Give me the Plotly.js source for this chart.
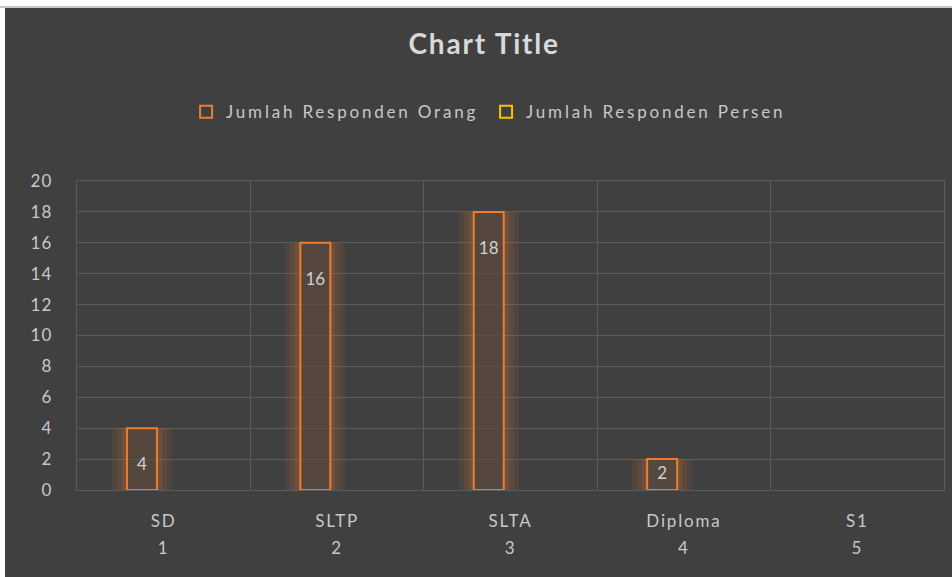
<!DOCTYPE html>
<html>
<head>
<meta charset="utf-8">
<script src="https://cdn.plot.ly/plotly-3.0.1.min.js"></script>
<style>
  html, body { margin: 0; padding: 0; background: #ffffff; }
  #chart { position: absolute; left: 5px; top: 8px; width: 947px; height: 569px; }
  #edge { position: absolute; left: 0; top: 6px; width: 952px; height: 2px; background: #c8c8c8; }
  #chart .xtick text, #chart .x2tick text { letter-spacing: 1.8px; }
  #chart .ytick text { letter-spacing: 1.2px; }
  #chart .gtitle { letter-spacing: 1.8px; }
  #chart .legendtext { letter-spacing: 2.8px; }
</style>
</head>
<body>
<div id="edge"></div>
<div id="chart"></div>
<script>
// ---- data ----
const categories = ["SD", "SLTP", "SLTA", "Diploma", "S1"];
const codes = ["1", "2", "3", "4", "5"];
const jumlahOrang = [4, 16, 18, 2, null];
const jumlahPersen = [null, null, null, null, null];
const seriesNames = ["Jumlah Responden Orang", "Jumlah Responden Persen"];
const yTicks = [0, 2, 4, 6, 8, 10, 12, 14, 16, 18, 20];

const ORANGE = "#ED7D31";
const GOLD = "#FFC000";
const GRID = "#5b5b5b";
const TXT = "#c8c8c8";
const FONT = "Lato, 'Open Sans', sans-serif";

function glowLayer(w, off, a) {
  return {
    type: "bar", x: categories, y: jumlahOrang,
    width: w, offset: off,
    marker: { color: "rgba(237,125,49," + a + ")", line: { width: 0 } },
    showlegend: false, hoverinfo: "skip"
  };
}
const glowA = glowLayer(0.346, -0.2985, 0.08);
const glowB = glowLayer(0.288, -0.2695, 0.10);
const glowC = glowLayer(0.231, -0.241, 0.13);

const orang = {
  type: "bar", name: seriesNames[0], x: categories, y: jumlahOrang,
  width: 0.173, offset: -0.212,
  marker: { color: "rgba(64,64,64,0.55)", line: { color: ORANGE, width: 2 } },
  text: jumlahOrang.map(v => v == null ? "" : String(v)),
  texttemplate: jumlahOrang.map(v => (v != null && v >= 4) ? "\u00a0<br>%{text}" : "%{text}"),
  textposition: "inside", insidetextanchor: "end", constraintext: "none",
  textfont: { color: "#d0d0d0", size: 17, family: FONT },
  cliponaxis: false
};
const persen = {
  type: "bar", name: seriesNames[1], x: categories, y: jumlahPersen,
  width: 0.173, offset: 0.04,
  marker: { color: "rgba(0,0,0,0)", line: { color: GOLD, width: 2 } }
};
const codeTrace = {
  type: "scatter", mode: "markers", x: codes, y: jumlahPersen,
  xaxis: "x2", showlegend: false, hoverinfo: "skip"
};

const layout = {
  width: 947, height: 569,
  paper_bgcolor: "#404040", plot_bgcolor: "#404040",
  margin: { l: 72, r: 8, t: 173, b: 87 },
  font: { family: FONT, color: TXT, size: 15 },
  title: {
    text: "<b>Chart Title</b>",
    font: { size: 28, color: "#d9d9d9", family: FONT },
    x: 0.506, xanchor: "center", xref: "container",
    y: 0.937, yanchor: "middle", yref: "container"
  },
  showlegend: true,
  legend: {
    orientation: "h", xref: "container", yref: "container",
    x: 0.508, xanchor: "center", y: 0.817, yanchor: "middle",
    font: { size: 17, color: TXT, family: FONT },
    itemwidth: 30, entrywidth: 255, entrywidthmode: "pixels",
    traceorder: "normal", bgcolor: "rgba(0,0,0,0)"
  },
  bargap: 0,
  barmode: "overlay",
  xaxis: {
    type: "category", categoryarray: categories, range: [-0.5, 4.5],
    tickson: "boundaries", showgrid: true, gridcolor: GRID, gridwidth: 1,
    showline: true, mirror: true, linecolor: GRID, linewidth: 1,
    ticks: "", ticklabelstandoff: 16,
    tickfont: { size: 17, color: TXT, family: FONT },
    zeroline: false, fixedrange: true
  },
  xaxis2: {
    type: "category", categoryarray: codes, range: [-0.5, 4.5],
    overlaying: "x", side: "bottom", anchor: "y",
    showgrid: false, showline: false, ticks: "", ticklabelstandoff: 46,
    tickfont: { size: 17, color: TXT, family: FONT },
    zeroline: false, fixedrange: true
  },
  yaxis: {
    range: [0, 20], tickvals: yTicks, ticktext: yTicks.map(String),
    showgrid: true, gridcolor: GRID, gridwidth: 1,
    showline: true, mirror: true, linecolor: GRID, linewidth: 1,
    zeroline: false, ticks: "", ticklabelstandoff: 20,
    tickfont: { size: 17, color: TXT, family: FONT },
    fixedrange: true
  }
};

Plotly.newPlot("chart", [glowA, glowB, glowC, orang, persen, codeTrace], layout, { displayModeBar: false, staticPlot: true });
</script>
</body>
</html>
